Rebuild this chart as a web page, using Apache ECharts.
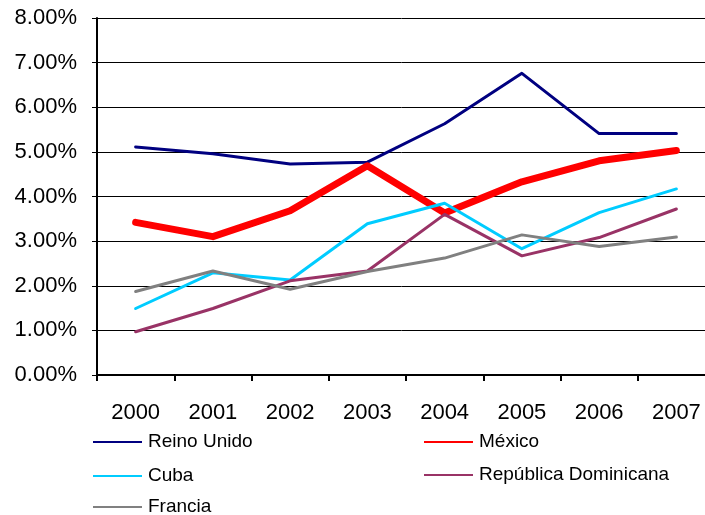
<!DOCTYPE html>
<html>
<head>
<meta charset="utf-8">
<script src="https://cdn.jsdelivr.net/npm/echarts@6/dist/echarts.min.js"></script>
<style>
  html, body { margin: 0; padding: 0; background: #fff; }
  #chart { width: 705px; height: 515px; }
</style>
</head>
<body>
<div id="chart"></div>
<script>
// Años del eje horizontal
const years = ['2000', '2001', '2002', '2003', '2004', '2005', '2006', '2007'];

// Porcentajes por país (en %)
const reinoUnido   = [5.11, 4.96, 4.73, 4.77, 5.63, 6.76, 5.41, 5.41];
const mexico       = [3.42, 3.10, 3.68, 4.69, 3.63, 4.33, 4.80, 5.03];
const cuba         = [1.49, 2.29, 2.13, 3.39, 3.85, 2.83, 3.64, 4.17];
const repDominicana = [0.97, 1.49, 2.11, 2.33, 3.60, 2.67, 3.08, 3.72];
const francia      = [1.87, 2.33, 1.92, 2.32, 2.62, 3.14, 2.88, 3.09];

const seriesNames = ['Reino Unido', 'México', 'Cuba', 'República Dominicana', 'Francia'];
const seriesData = [reinoUnido, mexico, cuba, repDominicana, francia];
const seriesColors = ['#000080', '#FF0000', '#00CCFF', '#993366', '#808080'];
const seriesWidths = [3, 7, 3, 3, 3];

const FONT = 'Arial, "Liberation Sans", sans-serif';

// Posiciones de la leyenda: dos columnas, tres filas
const legendSlots = [
  { left: 93, top: 431 },
  { left: 424, top: 431 },
  { left: 93, top: 465 },
  { left: 424, top: 464 },
  { left: 93, top: 496 }
];

const chart = echarts.init(document.getElementById('chart'), null, { renderer: 'canvas' });

chart.setOption({
  animation: false,
  backgroundColor: '#ffffff',
  grid: {
    left: 97,
    top: 18,
    width: 618,
    height: 357,
    containLabel: false,
    outerBoundsMode: 'none'
  },
  legend: seriesNames.map((name, i) => ({
    data: [name],
    left: legendSlots[i].left,
    top: legendSlots[i].top,
    padding: 0,
    icon: 'rect',
    itemWidth: 49,
    itemHeight: 2,
    itemGap: 0,
    selectedMode: false,
    textStyle: { fontFamily: FONT, fontSize: 19, color: '#000', lineHeight: 22, padding: [0, 0, 0, 1] }
  })),
  xAxis: {
    type: 'category',
    data: years,
    boundaryGap: true,
    axisLine: { lineStyle: { color: '#000', width: 2 } },
    axisTick: { show: true, length: 6, lineStyle: { color: '#000', width: 2 } },
    axisLabel: { fontFamily: FONT, fontSize: 22, color: '#000', margin: 27 },
    splitLine: { show: false }
  },
  yAxis: {
    type: 'value',
    min: 0,
    max: 8,
    interval: 1,
    axisLine: { show: true, lineStyle: { color: '#000', width: 2 } },
    axisTick: { show: true, length: 5, lineStyle: { color: '#000', width: 1 } },
    axisLabel: {
      fontFamily: FONT, fontSize: 22, color: '#000', margin: 20,
      formatter: v => v.toFixed(2) + '%'
    },
    splitLine: { show: true, lineStyle: { color: '#000', width: 1 } }
  },
  series: seriesNames.map((name, i) => ({
    name: name,
    type: 'line',
    data: seriesData[i],
    symbol: 'none',
    smooth: false,
    lineStyle: { color: seriesColors[i], width: seriesWidths[i], cap: 'round', join: 'round' },
    itemStyle: { color: seriesColors[i] },
    emphasis: { disabled: true }
  }))
});
</script>
</body>
</html>
